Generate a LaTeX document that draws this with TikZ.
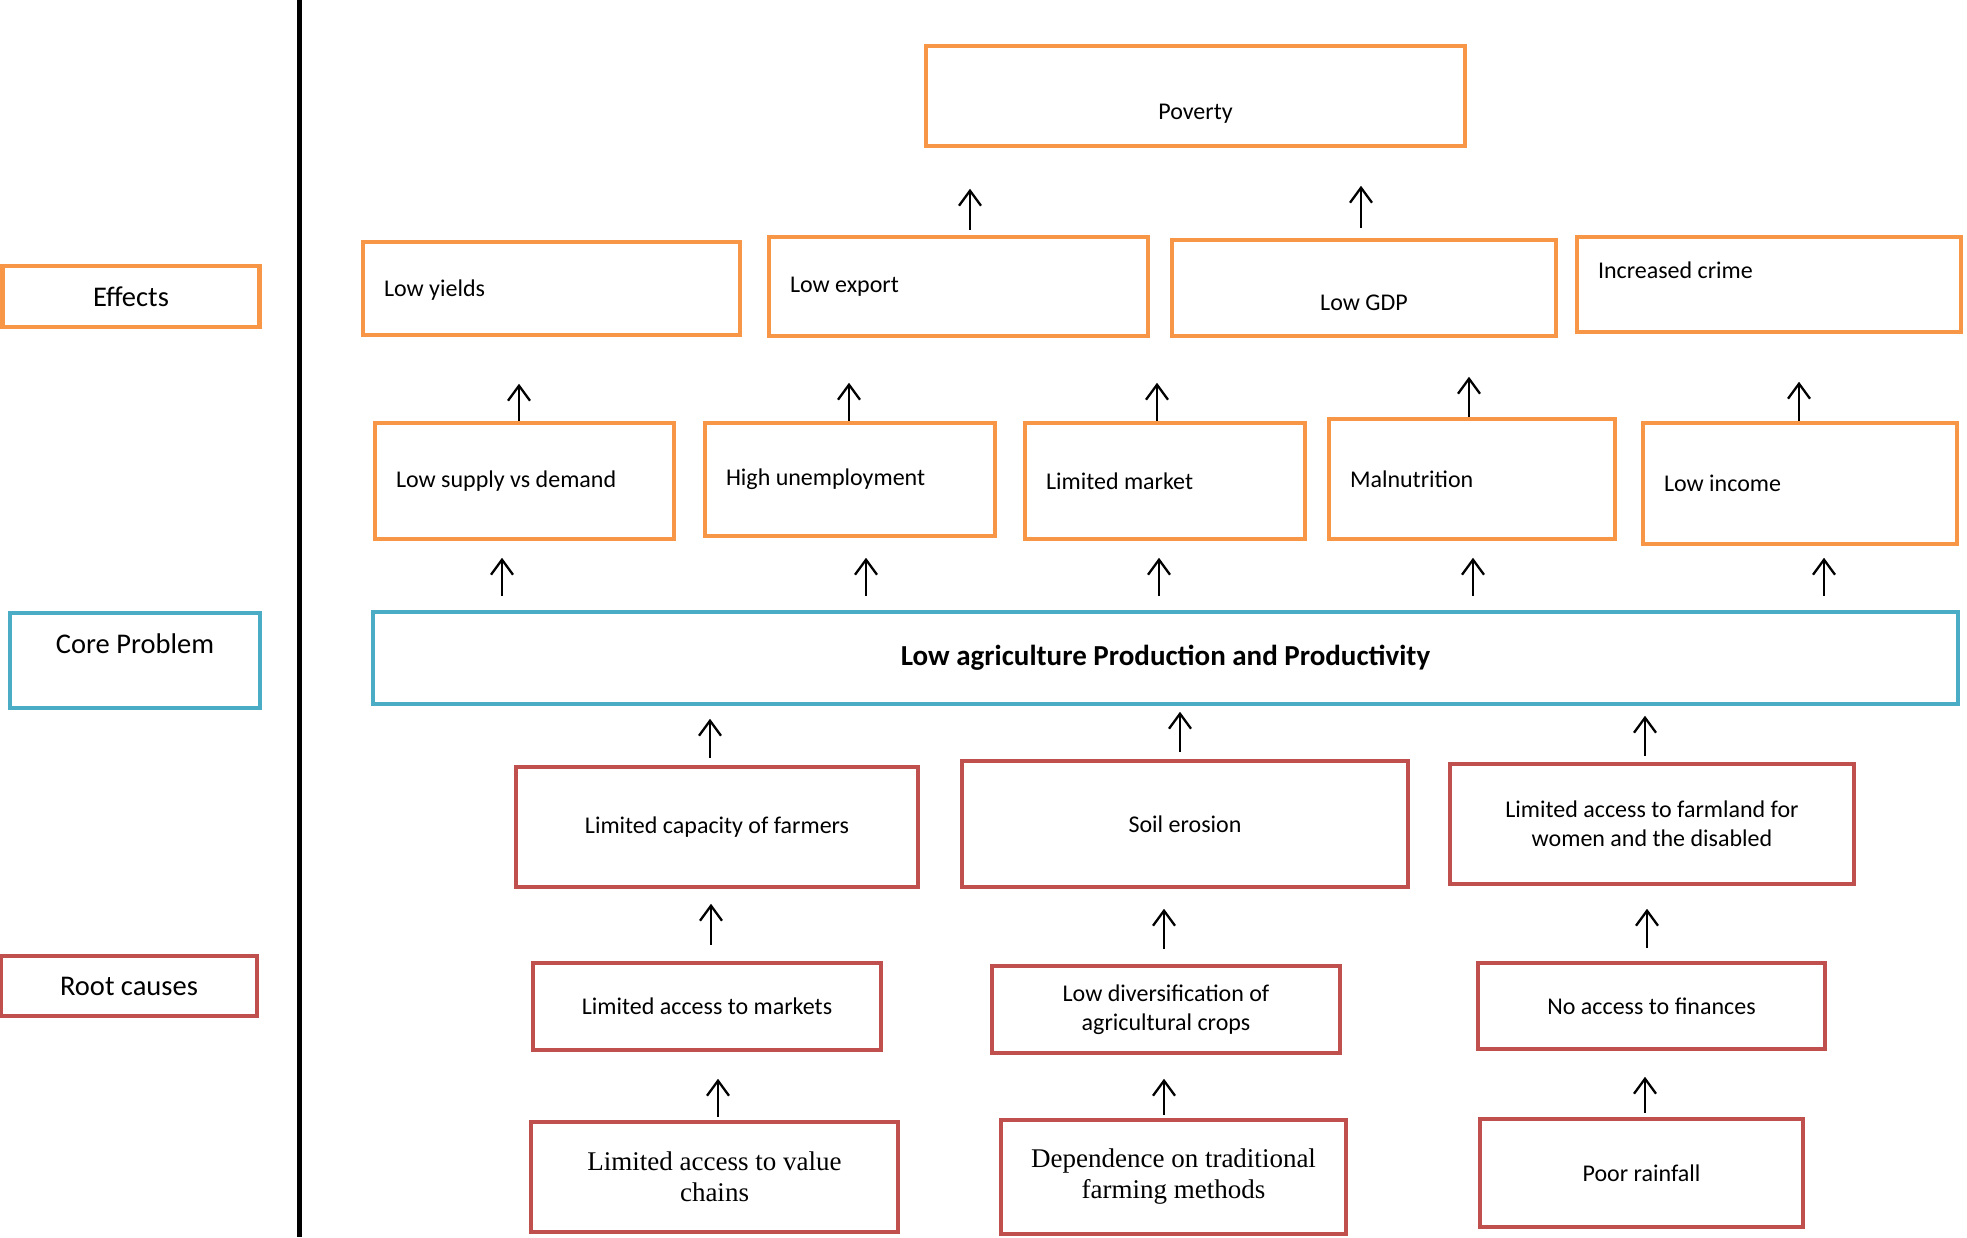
\documentclass[tikz,border=0pt]{standalone}
\usepackage{fontspec}
\setmainfont{Carlito}
\newfontfamily\serifface{Liberation Serif}
\usetikzlibrary{arrows.meta}
\definecolor{effO}{HTML}{F79646}
\definecolor{coreB}{HTML}{4BACC6}
\definecolor{rootR}{HTML}{C0504D}
\begin{document}
\begin{tikzpicture}[x=1pt,y=-1pt,
  box/.style={draw=#1, line width=4.5pt, fill=white, inner xsep=21pt, inner ysep=0pt,
    font=\fontsize{24}{29}\selectfont, align=center},
  obox/.style={box=effO},
  bbox/.style={box=coreB},
  rbox/.style={box=rootR},
  lefttxt/.style={text width=#1, align=flush left},
  sidelbl/.style={font=\fontsize{28.5}{34}\selectfont},
  serif/.style={font=\serifface\fontsize{27}{31}\selectfont},
  arr/.style={line width=2.3pt, -{Straight Barb[length=15pt,width=22pt,line width=2.3pt]}},
  sep/.style={line width=5pt}
]
\useasboundingbox (0,0) rectangle (1967,1237);

% separator
\coordinate (sepTop) at (299,0);
\coordinate (sepBot) at (299,1237);
\draw[sep] (sepTop) -- (sepBot);

% side labels
\node[obox, sidelbl, minimum width=257pt, minimum height=61pt] (lblEff) at (131,296.5) {Effects};
\node[bbox, sidelbl, minimum width=250pt, minimum height=95pt] (lblCore) at (135,660.5) {\raisebox{17pt}[\height][\depth]{Core Problem}};
\node[rbox, sidelbl, minimum width=256pt, minimum height=60pt] (lblRoot) at (129,986) {Root causes};

% top
\node[obox, minimum width=539pt, minimum height=100pt] (poverty) at (1195.5,96) {\raisebox{-18pt}[\height][\depth]{Poverty}};

% effects row 2
\node[obox, lefttxt=335pt, minimum height=93pt] (lowyields) at (551.5,288.5) {\raisebox{-1.5pt}[\height][\depth]{Low yields}};
\node[obox, lefttxt=337pt, minimum height=99pt] (lowexport) at (958.5,286.5) {Low export};
\node[obox, minimum width=384pt, minimum height=96pt] (lowgdp) at (1364,288) {\raisebox{-15pt}[\height][\depth]{Low GDP}};
\node[obox, lefttxt=342pt, minimum height=95pt] (crime) at (1769,284.5) {\raisebox{14pt}[\height][\depth]{Increased crime}};

% effects row 3
\node[obox, lefttxt=257pt, minimum height=116pt] (supply) at (524.5,481) {Low supply vs demand};
\node[obox, lefttxt=248pt, minimum height=113pt] (unemp) at (850,479.5) {High unemployment};
\node[obox, lefttxt=238pt, minimum height=116pt] (market) at (1165,481) {Limited market};
\node[obox, lefttxt=244pt, minimum height=120pt] (malnut) at (1472,479) {Malnutrition};
\node[obox, lefttxt=272pt, minimum height=121pt] (income) at (1800,483.5) {Low income};

% core
\node[bbox, minimum width=1585pt, minimum height=92pt, font=\bfseries\fontsize{29}{35}\selectfont] (core) at (1165.5,658) {Low agriculture Production and Productivity};

% causes row 5
\node[rbox, minimum width=402pt, minimum height=120pt] (capacity) at (717,827) {Limited capacity of farmers};
\node[rbox, minimum width=446pt, minimum height=126pt] (soil) at (1185,824) {Soil erosion};
\node[rbox, minimum width=404pt, minimum height=120pt] (farmland) at (1652,824) {Limited access to farmland for\\women and the disabled};

% causes row 6
\node[rbox, minimum width=348pt, minimum height=87pt] (markets) at (707,1006.5) {Limited access to markets};
\node[rbox, minimum width=348pt, minimum height=87pt] (diversif) at (1166,1009.5) {Low diversification of\\agricultural crops};
\node[rbox, minimum width=347pt, minimum height=86pt] (finances) at (1651.5,1006) {No access to finances};

% causes row 7
\node[rbox, serif, minimum width=367pt, minimum height=110pt] (valuech) at (714.5,1177) {Limited access to value\\chains};
\node[rbox, serif, minimum width=345pt, minimum height=114pt] (depend) at (1173.5,1177) {Dependence on traditional\\farming methods};
\node[rbox, minimum width=323pt, minimum height=108pt] (rainfall) at (1641.5,1173) {Poor rainfall};

% arrows to poverty
\draw[arr] ([xshift=11.5pt,yshift=5pt]lowexport.north) -- ++(0,-41);
\draw[arr] ([xshift=-3pt,yshift=10pt]lowgdp.north) -- ++(0,-42);

% row3 -> row2
\draw[arr] ([xshift=-5.5pt]supply.north) -- ++(0,-37);
\draw[arr] ([xshift=-1pt]unemp.north) -- ++(0,-38);
\draw[arr] ([xshift=-8pt]market.north) -- ++(0,-38);
\draw[arr] ([xshift=-3pt]malnut.north) -- ++(0,-40);
\draw[arr] ([xshift=-1pt]income.north) -- ++(0,-39);

% core -> row3
\draw[arr] ([xshift=-663.5pt,yshift=14pt]core.north) -- ++(0,-38);
\draw[arr] ([xshift=-299.5pt,yshift=14pt]core.north) -- ++(0,-38);
\draw[arr] ([xshift=-6.5pt,yshift=14pt]core.north) -- ++(0,-38);
\draw[arr] ([xshift=307.5pt,yshift=14pt]core.north) -- ++(0,-38);
\draw[arr] ([xshift=658.5pt,yshift=14pt]core.north) -- ++(0,-38);

% row5 -> core
\draw[arr] ([xshift=-7pt,yshift=7pt]capacity.north) -- ++(0,-39);
\draw[arr] ([xshift=-5pt,yshift=7pt]soil.north) -- ++(0,-40);
\draw[arr] ([xshift=-7pt,yshift=6pt]farmland.north) -- ++(0,-40);

% row6 -> row5
\draw[arr] ([xshift=4pt,yshift=16pt]markets.north) -- ++(0,-41);
\draw[arr] ([xshift=-2pt,yshift=15pt]diversif.north) -- ++(0,-40);
\draw[arr] ([xshift=-4.5pt,yshift=13pt]finances.north) -- ++(0,-39);

% row7 -> row6
\draw[arr] ([xshift=3.5pt,yshift=3pt]valuech.north) -- ++(0,-38);
\draw[arr] ([xshift=-9.5pt,yshift=3pt]depend.north) -- ++(0,-36);
\draw[arr] ([xshift=3.5pt,yshift=4pt]rainfall.north) -- ++(0,-36);
\end{tikzpicture}
\end{document}
